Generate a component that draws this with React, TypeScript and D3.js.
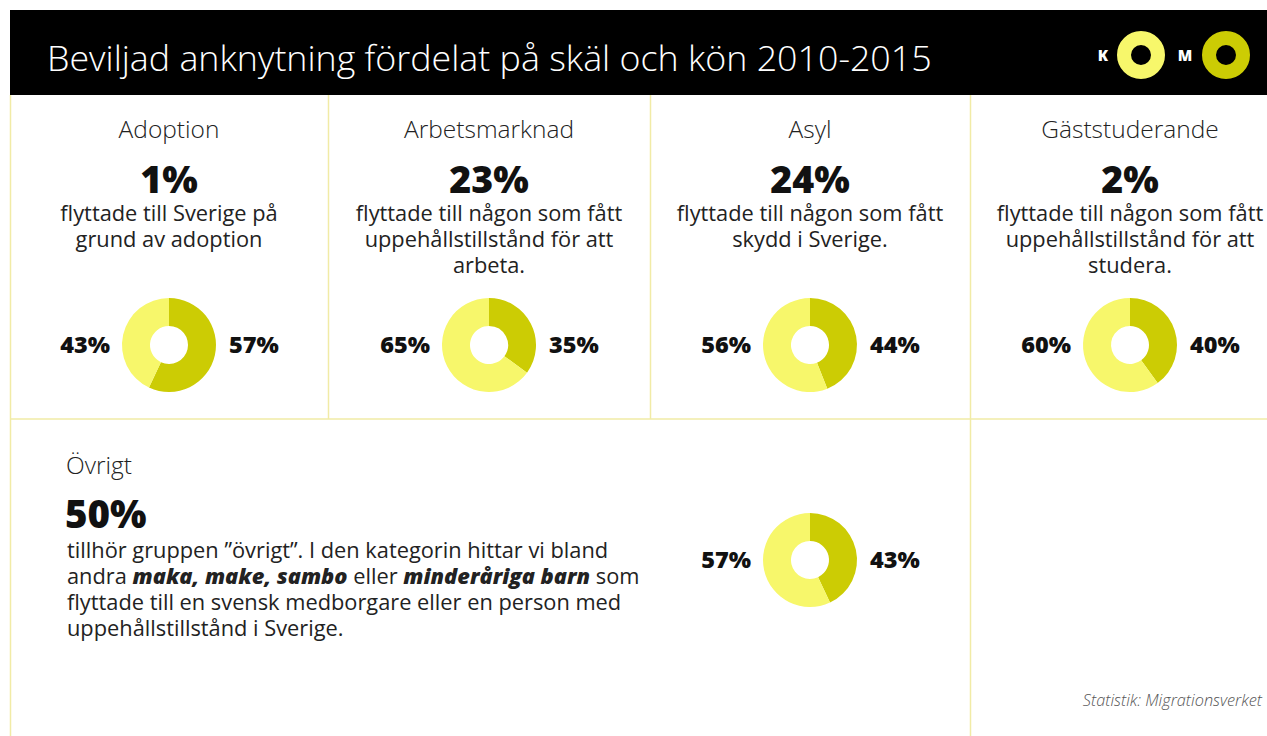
import React from 'react';
import { arc, pie } from 'd3';

const categories = ['Adoption', 'Arbetsmarknad', 'Asyl', 'Gäststuderande'];
const shares = ['1%', '23%', '24%', '2%'];
const descriptions = [
  ['flyttade till Sverige på', 'grund av adoption'],
  ['flyttade till någon som fått', 'uppehållstillstånd för att', 'arbeta.'],
  ['flyttade till någon som fått', 'skydd i Sverige.'],
  ['flyttade till någon som fått', 'uppehållstillstånd för att', 'studera.'],
];
const women = [43, 65, 56, 60];
const men = [57, 35, 44, 40];

const otherTitle = 'Övrigt';
const otherShare = '50%';
const otherWomen = 57;
const otherMen = 43;

const LIGHT = '#f7f76b';
const DARK = '#cccc04';
const GRID = '#f1eba6';
const FONT = "'Open Sans', sans-serif";

const W = 1267;
const H = 736;
// the last panel runs off the right edge
const panelX = [10, 328, 650, 970, 1290];

const Donut = ({ cx, cy, w, m }: { cx: number; cy: number; w: number; m: number }) => {
  // men first, clockwise from 12 o'clock, then women
  const slices = pie<number>().sort(null)([m, w]);
  const a = arc<any>().innerRadius(19).outerRadius(47);
  return (
    <g transform={`translate(${cx},${cy})`}>
      {slices.map((s, i) => (
        <path key={i} d={a(s) as string} fill={i === 0 ? DARK : LIGHT} />
      ))}
      <text x={-59} y={8} textAnchor="end" fontFamily={FONT} fontWeight={800} fontSize={23.5} fill="#111">{w}%</text>
      <text x={60} y={8} textAnchor="start" fontFamily={FONT} fontWeight={800} fontSize={23.5} fill="#111">{m}%</text>
    </g>
  );
};

const App = () => {
  return (
    <svg width={W} height={H} style={{ position: 'absolute', left: 0, top: 0, background: '#fff' }}>
      <rect x={10} y={10} width={W - 10} height={85} fill="#000" />
      <text x={47} y={71} fill="#fff" fontFamily={FONT} fontWeight={300} fontSize={35.8}>
        Beviljad anknytning fördelat på skäl och kön 2010-2015
      </text>
      {/* logo */}
      <text x={1103} y={61} textAnchor="middle" fill="#fff" fontFamily={FONT} fontWeight={800} fontSize={15}>K</text>
      <circle cx={1141} cy={55} r={17} fill="none" stroke={LIGHT} strokeWidth={14} />
      <text x={1185} y={61} textAnchor="middle" fill="#fff" fontFamily={FONT} fontWeight={800} fontSize={15}>M</text>
      <circle cx={1226} cy={55} r={17} fill="none" stroke={DARK} strokeWidth={14} />

      {/* grid */}
      <line x1={10.5} y1={95} x2={10.5} y2={H} stroke={GRID} strokeWidth={1.5} />
      {[328, 650].map((x) => (
        <line key={x} x1={x + 0.5} y1={95} x2={x + 0.5} y2={419} stroke={GRID} strokeWidth={1.5} />
      ))}
      <line x1={970.5} y1={95} x2={970.5} y2={H} stroke={GRID} strokeWidth={1.5} />
      <line x1={10} y1={419} x2={W} y2={419} stroke={GRID} strokeWidth={1.5} />

      {categories.map((c, i) => {
        const cx = (panelX[i] + panelX[i + 1]) / 2;
        return (
          <g key={c}>
            <text x={cx} y={138} textAnchor="middle" fontFamily={FONT} fontWeight={300} fontSize={24.5} fill="#222">{c}</text>
            <text x={cx} y={193} textAnchor="middle" fontFamily={FONT} fontWeight={800} fontSize={37.5} fill="#111">{shares[i]}</text>
            {descriptions[i].map((l, j) => (
              <text key={j} x={cx} y={221 + j * 26} textAnchor="middle" fontFamily={FONT} fontSize={21.8} fill="#222">{l}</text>
            ))}
            <Donut cx={cx} cy={345} w={women[i]} m={men[i]} />
          </g>
        );
      })}

      <text x={66} y={474} fontFamily={FONT} fontWeight={300} fontSize={24.5} fill="#222">{otherTitle}</text>
      <text x={65} y={528} fontFamily={FONT} fontWeight={800} fontSize={38.5} fill="#111">{otherShare}</text>
      <g fontFamily={FONT} fontSize={21.8} fill="#222">
        <text x={67} y={558}>tillhör gruppen ”övrigt”. I den kategorin hittar vi bland</text>
        <text x={67} y={584}>
          andra <tspan fontWeight={800} fontStyle="italic">maka, make, sambo</tspan> eller{' '}
          <tspan fontWeight={800} fontStyle="italic">minderåriga barn</tspan> som
        </text>
        <text x={67} y={610}>flyttade till en svensk medborgare eller en person med</text>
        <text x={67} y={636}>uppehållstillstånd i Sverige.</text>
      </g>
      <Donut cx={810} cy={560} w={otherWomen} m={otherMen} />

      <text x={1262} y={706} textAnchor="end" fontFamily={FONT} fontStyle="italic" fontWeight={300} fontSize={16.3} fill="#555">
        Statistik: Migrationsverket
      </text>
    </svg>
  );
};

export default App;
